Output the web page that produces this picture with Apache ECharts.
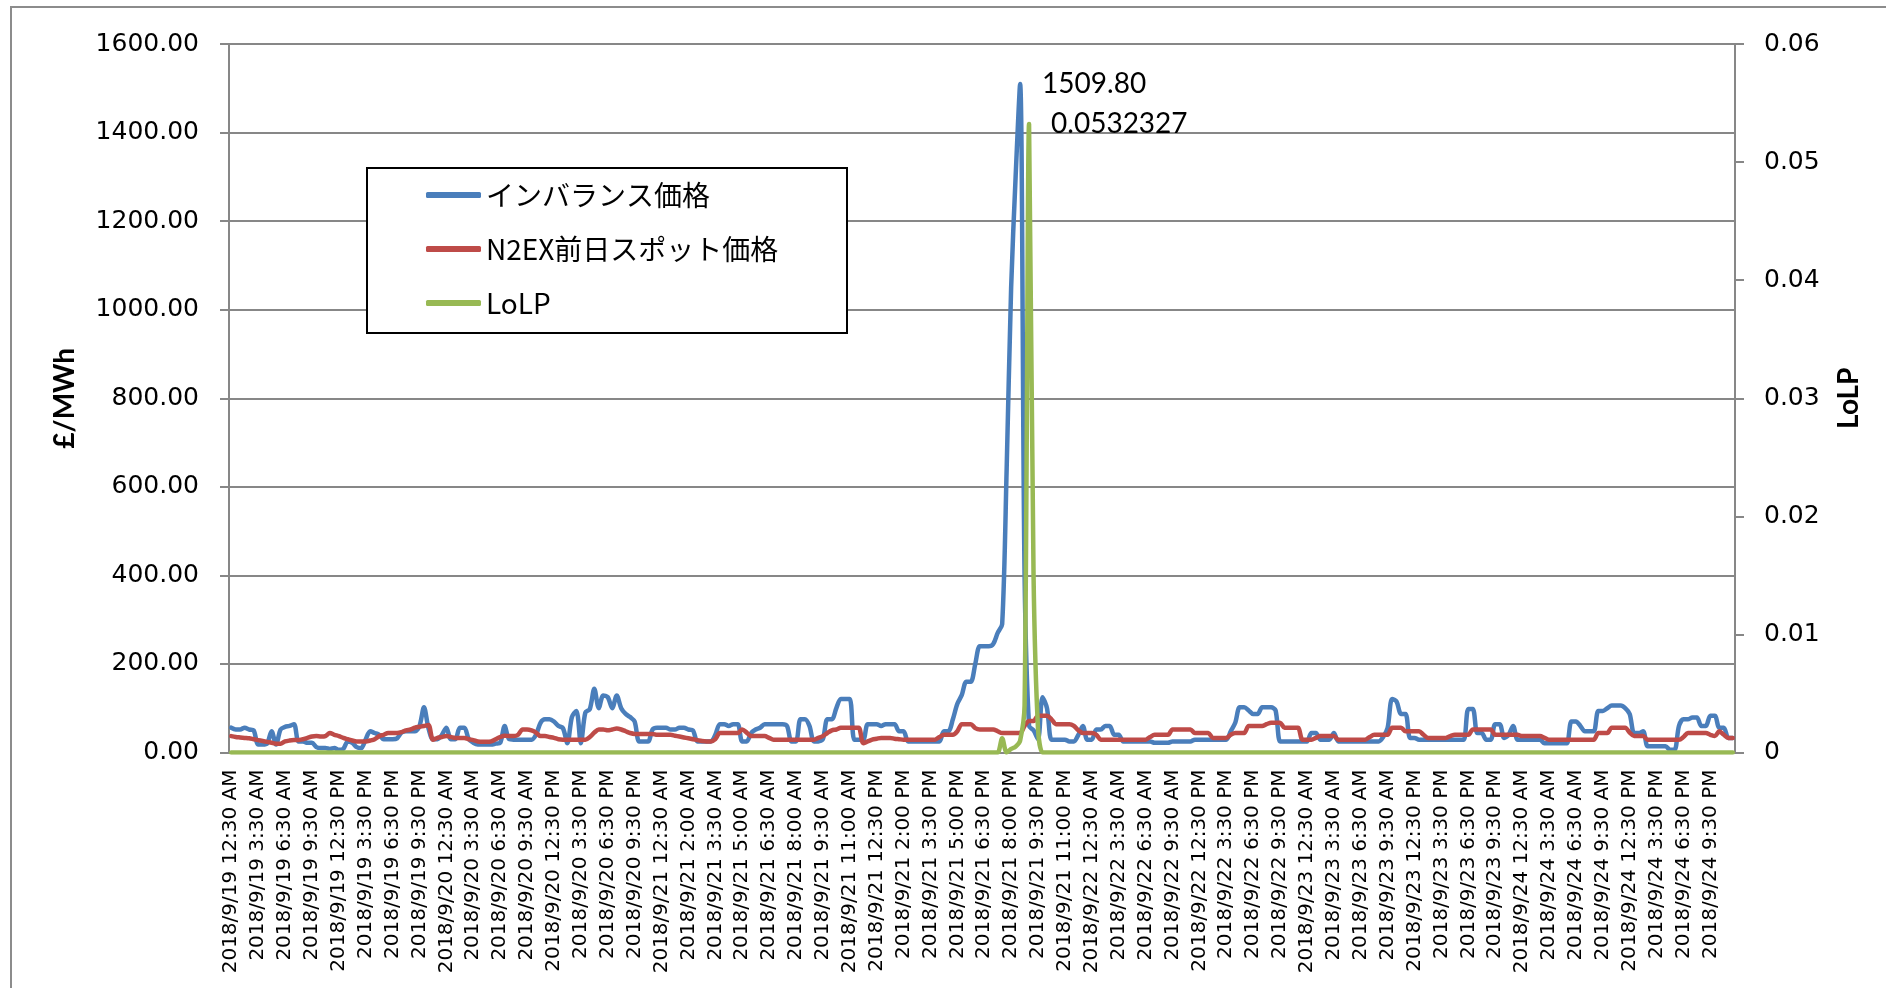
<!DOCTYPE html>
<html>
<head>
<meta charset="utf-8">
<script src="https://cdn.jsdelivr.net/npm/echarts@6/dist/echarts.min.js"></script>
<style>
  html, body { margin: 0; padding: 0; background: #fff; }
  #chart { width: 1886px; height: 988px; }
</style>
</head>
<body>
<div id="chart"></div>
<script>
// days in the data: 9/21 is quarter-hourly, the others half-hourly
const dayList = ['2018/9/19', '2018/9/20', '2018/9/21', '2018/9/22', '2018/9/23', '2018/9/24'];
const dayStepMin = [30, 30, 15, 30, 30, 30];

const legendNames = ['インバランス価格', 'N2EX前日スポット価格', 'LoLP'];

// インバランス価格 (£/MWh)
const imbalance = [
  56,52,52,56,52,50,18,18,20,48,
  18,52,58,60,64,25,25,22,22,12,
  10,10,8,10,6,8,25,22,12,10,
  30,48,44,40,30,30,30,32,45,48,
  48,48,60,102,55,30,30,40,56,30,
  30,56,56,30,22,18,18,18,18,20,
  22,60,30,29,29,29,29,29,40,67,
  75,75,70,60,55,21,80,94,21,90,
  98,144,100,129,125,100,129,100,87,80,
  70,25,25,25,52,56,56,56,52,52,
  56,56,52,50,25,25,25,25,40,64,
  64,60,64,64,25,25,44,52,56,64,
  64,64,64,64,60,25,25,75,75,60,
  25,25,30,75,75,100,121,121,121,29,
  29,29,64,64,64,60,64,64,64,48,
  48,25,25,25,25,25,25,25,25,48,
  48,75,110,130,160,160,200,240,240,240,
  245,270,290,640,1050,1300,1509.8,400,60,50,
  30,125,100,29,29,29,29,25,25,40,
  60,29,29,52,52,60,60,40,40,25,
  25,25,25,25,25,25,22,22,22,22,
  25,25,25,25,25,29,29,29,29,29,
  29,29,29,48,67,102,102,95,87,87,
  102,102,102,95,25,25,25,25,25,25,
  25,44,44,29,29,29,44,25,25,25,
  25,25,25,25,25,25,25,35,56,121,
  115,87,87,33,33,29,29,29,29,29,
  29,29,29,29,29,29,98,98,44,44,
  29,29,64,64,33,40,60,29,29,29,
  29,29,29,21,21,21,21,21,21,70,
  70,60,48,48,48,94,94,100,106,106,
  106,100,87,44,44,48,14,14,14,14,
  14,6,6,60,75,75,79,79,60,60,
  83,83,56,56,33,33
];

// N2EX前日スポット価格 (£/MWh)
const spot = [
  37,35,34,33,32,30,28,26,24,22,
  20,20,25,27,28,28,30,33,36,37,
  36,37,44,40,37,33,30,27,25,25,
  25,27,30,37,40,44,44,44,46,50,
  52,56,58,60,62,29,33,35,37,35,
  33,33,33,30,28,25,24,24,25,30,
  35,38,37,37,40,52,52,50,45,37,
  37,35,33,30,29,29,29,29,29,29,
  35,45,52,52,50,52,54,52,48,44,
  42,42,42,42,42,40,40,40,40,38,
  36,34,32,30,28,26,25,25,30,44,
  44,44,44,44,52,45,37,37,37,37,
  33,29,29,29,29,29,29,29,29,29,
  29,33,37,44,50,52,56,56,56,56,
  56,21,25,29,31,33,33,33,31,30,
  29,29,29,29,29,29,29,29,35,40,
  40,40,48,64,64,64,55,52,52,52,
  52,48,44,44,44,44,44,60,71,71,
  83,83,83,75,64,64,64,64,60,50,
  44,44,44,40,29,29,29,29,29,29,
  29,29,29,29,29,35,40,40,40,40,
  52,52,52,52,52,44,44,44,44,33,
  33,33,33,40,44,44,44,60,60,60,
  60,64,67,67,67,56,56,56,56,29,
  29,29,33,37,37,37,37,29,29,29,
  29,29,29,29,35,40,40,40,40,56,
  56,56,48,48,48,48,40,33,33,33,
  33,33,37,40,40,40,40,52,52,52,
  52,52,40,40,40,40,40,40,37,37,
  37,37,37,33,29,29,29,29,29,29,
  29,29,29,29,29,44,44,44,56,56,
  56,56,45,37,37,37,29,29,29,29,
  29,29,29,29,35,44,44,44,44,44,
  40,37,48,40,33,33
];

// LoLP
const lolp = [
  0,0,0,0,0,0,0,0,0,0,0,0,0,0,0,0,0,0,0,0,0,0,0,0,
  0,0,0,0,0,0,0,0,0,0,0,0,0,0,0,0,0,0,0,0,0,0,0,0,
  0,0,0,0,0,0,0,0,0,0,0,0,0,0,0,0,0,0,0,0,0,0,0,0,
  0,0,0,0,0,0,0,0,0,0,0,0,0,0,0,0,0,0,0,0,0,0,0,0,
  0,0,0,0,0,0,0,0,0,0,0,0,0,0,0,0,0,0,0,0,0,0,0,0,
  0,0,0,0,0,0,0,0,0,0,0,0,0,0,0,0,0,0,0,0,0,0,0,0,
  0,0,0,0,0,0,0,0,0,0,0,0,0,0,0,0,0,0,0,0,0,0,0,0,
  0,0,0,0,0.0012,0,0.0003,0.0005,0.001,0.004,0.0532327,0.015,0.002,0,0,0,0,0,0,0,0,0,0,0,
  0,0,0,0,0,0,0,0,0,0,0,0,0,0,0,0,0,0,0,0,0,0,0,0,
  0,0,0,0,0,0,0,0,0,0,0,0,0,0,0,0,0,0,0,0,0,0,0,0,
  0,0,0,0,0,0,0,0,0,0,0,0,0,0,0,0,0,0,0,0,0,0,0,0,
  0,0,0,0,0,0,0,0,0,0,0,0,0,0,0,0,0,0,0,0,0,0,0,0,
  0,0,0,0,0,0,0,0,0,0,0,0,0,0,0,0,0,0,0,0,0,0,0,0,
  0,0,0,0,0,0,0,0,0,0,0,0,0,0,0,0,0,0,0,0,0,0,0,0
];

const categories = [];
dayList.forEach((d, di) => {
  const step = dayStepMin[di];
  const n = 1440 / step;
  for (let k = 0; k < n; k++) {
    const m = 30 + k * step;
    const h24 = Math.floor(m / 60) % 24;
    const h12 = h24 % 12 === 0 ? 12 : h24 % 12;
    const mm = String(m % 60).padStart(2, '0');
    categories.push(d + ' ' + h12 + ':' + mm + ' ' + (h24 < 12 ? 'AM' : 'PM'));
  }
});

const COLORS = ['#4a7ebb', '#be4b48', '#98b954'];
const GRID_GRAY = '#878787';

// only the maximum point carries a data label
function withPeakLabel(values, fmt, dist) {
  const peak = values.indexOf(Math.max(...values));
  return values.map((v, i) => i !== peak ? v : {
    value: v,
    label: {
      show: true,
      position: 'right',
      distance: dist,
      formatter: () => fmt(v),
      color: '#000',
      fontFamily: 'Lato',
      fontSize: 28
    }
  });
}

function lineSeries(idx, data, extra) {
  return Object.assign({
    name: legendNames[idx],
    type: 'line',
    data,
    smooth: 0.3,
    showSymbol: true,
    showAllSymbol: true,
    symbol: 'circle',
    symbolSize: 0,
    itemStyle: { color: COLORS[idx] },
    lineStyle: { width: 4.5, color: COLORS[idx], cap: 'round', join: 'round' },
    label: { show: false }
  }, extra || {});
}

const chart = echarts.init(document.getElementById('chart'), null, { renderer: 'canvas' });

chart.setOption({
  animation: false,
  backgroundColor: '#fff',
  color: COLORS,
  grid: { left: 229, top: 44, width: 1506, height: 708.5 },
  graphic: [
    {
      type: 'rect', silent: true,
      shape: { x: 11, y: 7, width: 2000, height: 2000 },
      style: { fill: 'none', stroke: '#8c8c8c', lineWidth: 2 }
    },
    {
      type: 'rect', silent: true, z: 10,
      shape: { x: 367, y: 168, width: 480, height: 165 },
      style: { fill: '#fff', stroke: '#000', lineWidth: 2 }
    }
  ],
  legend: {
    data: legendNames,
    orient: 'vertical',
    left: 421,
    top: 175,
    z: 20,
    icon: 'roundRect',
    itemWidth: 55,
    itemHeight: 6,
    itemGap: 24,
    textStyle: { color: '#000', fontSize: 28, fontFamily: 'Noto Sans CJK JP', lineHeight: 30 }
  },
  xAxis: {
    type: 'category',
    data: categories,
    boundaryGap: true,
    axisLine: { lineStyle: { color: GRID_GRAY, width: 2 } },
    axisTick: { show: false },
    axisLabel: {
      interval: 5,
      rotate: 90,
      margin: 17,
      color: '#000',
      fontSize: 20,
      fontFamily: 'DejaVu Sans'
    },
    splitLine: { show: false }
  },
  yAxis: [
    {
      type: 'value',
      min: 0,
      max: 1600,
      interval: 200,
      name: '£/MWh',
      nameLocation: 'middle',
      nameRotate: 90,
      nameGap: 150,
      nameTextStyle: { color: '#000', fontSize: 28, fontWeight: 'bold', fontFamily: 'Lato' },
      axisLine: { show: true, lineStyle: { color: GRID_GRAY, width: 2 } },
      axisTick: { show: true, length: 9, lineStyle: { color: GRID_GRAY, width: 2 } },
      axisLabel: {
        margin: 30,
        color: '#000',
        fontSize: 25,
        fontFamily: 'DejaVu Sans',
        formatter: v => v.toFixed(2)
      },
      splitLine: { lineStyle: { color: GRID_GRAY, width: 2 } }
    },
    {
      type: 'value',
      min: 0,
      max: 0.06,
      interval: 0.01,
      position: 'right',
      name: 'LoLP',
      nameLocation: 'middle',
      nameRotate: 90,
      nameGap: 100,
      nameTextStyle: { color: '#000', fontSize: 28, fontWeight: 'bold', fontFamily: 'Lato' },
      axisLine: { show: true, lineStyle: { color: GRID_GRAY, width: 2 } },
      axisTick: { show: true, length: 9, lineStyle: { color: GRID_GRAY, width: 2 } },
      axisLabel: {
        margin: 29,
        color: '#000',
        fontSize: 25,
        fontFamily: 'DejaVu Sans',
        formatter: v => v === 0 ? '0' : v.toFixed(2)
      },
      splitLine: { show: false }
    }
  ],
  series: [
    lineSeries(0, withPeakLabel(imbalance, v => v.toFixed(2), 22)),
    lineSeries(1, spot),
    lineSeries(2, withPeakLabel(lolp, v => String(v), 22), { yAxisIndex: 1 })
  ]
});
</script>
</body>
</html>
